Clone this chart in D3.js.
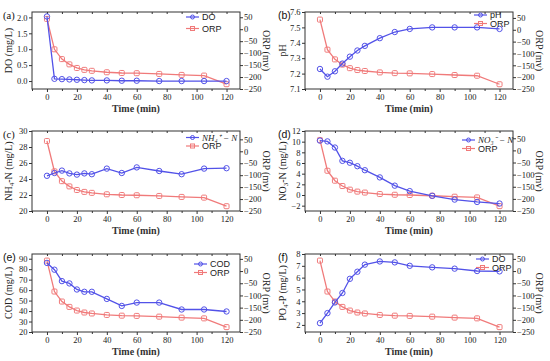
<!DOCTYPE html>
<html>
<head>
<meta charset="utf-8">
<script src="https://cdn.jsdelivr.net/npm/d3@7"></script>
<style>
  body { margin: 0; background: #fff; }
  svg { display: block; }
</style>
</head>
<body>
<script>
// time points (min)
var time = [0, 5, 10, 15, 20, 25, 30, 40, 50, 60, 75, 90, 105, 120];
// ORP (mv), same run in every panel
var orp = [43, -84, -125, -147, -162, -170, -174, -180, -183, -184, -187, -191, -194, -230];
var doVals = [2.03, 0.07, 0.06, 0.05, 0.04, 0.03, 0.02, 0.02, 0.01, 0.01, 0.0, 0.0, 0.0, 0.0];
var ph = [7.23, 7.18, 7.215, 7.265, 7.31, 7.35, 7.38, 7.43, 7.47, 7.49, 7.5, 7.5, 7.5, 7.49];
var nh4 = [24.4, 24.75, 25.05, 24.7, 24.55, 24.7, 24.6, 25.3, 24.75, 25.45, 25.0, 24.6, 25.3, 25.35];
var no3 = [10.2, 10.05, 8.9, 6.4, 6.05, 5.4, 4.65, 3.3, 1.75, 0.73, -0.15, -0.86, -1.3, -1.6];
var cod = [86, 79.5, 68.6, 66.4, 60.6, 58.4, 58.4, 51.6, 44.9, 48.1, 48.1, 41.5, 41.5, 39.6];
var po4 = [2.15, 3.0, 3.9, 4.7, 5.9, 6.5, 7.1, 7.37, 7.29, 7.0, 6.87, 6.76, 6.56, 6.53];

var xTicks = [0, 20, 40, 60, 80, 100, 120];
var orpTicks = [50, 0, -50, -100, -150, -200, -250];

var w = 550, h = 361;
var blue = "#5252e8", red = "#f07a7a";
var serif = "'Liberation Serif', 'Times New Roman', serif";
var sans = "'Liberation Sans', Arial, sans-serif";

var svg = d3.select("body").append("svg")
  .attr("width", w)
  .attr("height", h);

var panels = [
  { tag: "(a)", tagFont: serif, left: true, row: 0, series: doVals, name: "DO", ylab: ["DO (mg/L)"],
    dom: [-0.25, 2.17], ticks: [0, 0.5, 1, 1.5, 2], fmt: ".1f", rdom: [-250, 72], leg: [202, 20, 11.5] },
  { tag: "(b)", tagFont: sans, left: false, row: 0, series: ph, name: "pH", ylab: ["pH"],
    dom: [7.1, 7.6], ticks: [7.1, 7.2, 7.3, 7.4, 7.5, 7.6], fmt: ".1f", rdom: [-250, 75], leg: [490, 18, 8.5] },
  { tag: "(c)", tagFont: serif, left: true, row: 1, series: nh4, name: "NH\u2084\u207A \u2212 N", ylab: ["NH", "4", "-N (mg/L)"],
    dom: [20, 30], ticks: [20, 22, 24, 26, 28, 30], fmt: "d", rdom: [-250, 85], leg: [202, 140.5, 8.5] },
  { tag: "(d)", tagFont: sans, left: false, row: 1, series: no3, name: "NO\u2083\u207B \u2212 N", ylab: ["NO", "3", "-N (mg/L)"],
    dom: [-3, 12], ticks: [-2, 0, 2, 4, 6, 8, 10, 12], fmt: "d", rdom: [-250, 80], leg: [478, 143, 8.5] },
  { tag: "(e)", tagFont: sans, left: true, row: 2, series: cod, name: "COD", ylab: ["COD (mg/L)"],
    dom: [20, 94.5], ticks: [20, 30, 40, 50, 60, 70, 80, 90], fmt: "d", rdom: [-250, 70], leg: [210, 267, 8.5] },
  { tag: "(f)", tagFont: sans, left: false, row: 2, series: po4, name: "DO", ylab: ["PO", "4", "-P (mg/L)"],
    dom: [1.4, 8], ticks: [2, 3, 4, 5, 6, 7, 8], fmt: "d", rdom: [-250, 70], leg: [492, 262, 8.5] }
];

var rows = [[12, 89], [131, 211], [254, 332]];

panels.forEach(drawPanel);

function drawPanel(p) {
  var x0 = p.left ? 32 : 305;
  var x1 = p.left ? 240 : 513;
  var y0 = rows[p.row][0], y1 = rows[p.row][1];
  var g = svg.append("g");

  var xScale = d3.scaleLinear().domain([-10, 129]).range([x0, x1]);
  var yScale = d3.scaleLinear().domain(p.dom).range([y1, y0]);
  var rScale = d3.scaleLinear().domain(p.rdom).range([y1, y0]);

  /* ===== AXES ===== */
  g.append("g")
    .attr("transform", "translate(0," + y1 + ")")
    .call(d3.axisBottom(xScale).tickValues(xTicks).tickSize(3).tickPadding(2));
  g.append("g")
    .attr("transform", "translate(0," + y1 + ")")
    .call(d3.axisBottom(xScale).tickValues([-10, 10, 30, 50, 70, 90, 110]).tickSize(2).tickFormat(""));
  g.append("g")
    .attr("transform", "translate(0," + y0 + ")")
    .call(d3.axisBottom(xScale).tickValues([0, 10, 20, 30, 40, 50, 60, 70, 80, 90, 100, 110, 120]).tickSize(2).tickFormat(""));

  g.append("g")
    .attr("transform", "translate(" + x0 + ",0)")
    .call(d3.axisLeft(yScale).tickValues(p.ticks).tickSize(3).tickPadding(1.5).tickFormat(d3.format(p.fmt)));
  g.append("g")
    .attr("transform", "translate(" + x1 + ",0)")
    .call(d3.axisRight(rScale).tickValues(orpTicks).tickSize(3).tickPadding(1));

  g.selectAll(".domain").remove();
  g.selectAll(".tick line").attr("stroke", "#333");
  g.selectAll(".tick text")
    .attr("font-family", serif)
    .attr("font-size", "8.5px")
    .attr("fill", "#222");

  g.append("rect")
    .attr("x", x0).attr("y", y0)
    .attr("width", x1 - x0).attr("height", y1 - y0)
    .attr("fill", "none")
    .attr("stroke", "#333")
    .attr("stroke-width", 1);

  /* ===== LINES ===== */
  var line = d3.line();
  var orpPts = time.map(function (t, i) { return [xScale(t), rScale(orp[i])]; });
  var serPts = time.map(function (t, i) { return [xScale(t), yScale(p.series[i])]; });

  g.append("path").attr("d", line(orpPts))
    .attr("fill", "none").attr("stroke", red).attr("stroke-width", 1.3);
  g.selectAll("rect.orp").data(orpPts).enter().append("rect")
    .attr("class", "orp")
    .attr("x", function (d) { return d[0] - 2.5; })
    .attr("y", function (d) { return d[1] - 2.5; })
    .attr("width", 5).attr("height", 5).attr("rx", 1)
    .attr("fill", "none").attr("stroke", red).attr("stroke-width", 1);

  g.append("path").attr("d", line(serPts))
    .attr("fill", "none").attr("stroke", blue).attr("stroke-width", 1.3);
  g.selectAll("circle.ser").data(serPts).enter().append("circle")
    .attr("class", "ser")
    .attr("cx", function (d) { return d[0]; })
    .attr("cy", function (d) { return d[1]; })
    .attr("r", 2.7)
    .attr("fill", "none").attr("stroke", blue).attr("stroke-width", 1);

  /* ===== LABELS ===== */
  var cx = (x0 + x1) / 2;
  g.append("text")
    .attr("x", cx).attr("y", y1 + 23)
    .attr("text-anchor", "middle")
    .attr("font-family", serif)
    .attr("font-size", "10px")
    .attr("font-weight", "bold")
    .attr("fill", "#333")
    .text("Time (min)");

  var lx = p.left ? 8 : 282;
  var yl = g.append("text")
    .attr("transform", "translate(" + lx + "," + ((y0 + y1) / 2) + ") rotate(-90)")
    .attr("text-anchor", "middle")
    .attr("dy", "0.35em")
    .attr("font-family", serif)
    .attr("font-size", "10px")
    .attr("fill", "#222");
  yl.append("tspan").text(p.ylab[0]);
  if (p.ylab.length > 1) {
    yl.append("tspan").attr("dy", 2.5).attr("font-size", "7px").text(p.ylab[1]);
    yl.append("tspan").attr("dy", -2.5).text(p.ylab[2]);
  }

  g.append("text")
    .attr("transform", "translate(" + (x1 + 26) + "," + ((y0 + y1) / 2) + ") rotate(90)")
    .attr("text-anchor", "middle")
    .attr("dy", "0.35em")
    .attr("font-family", serif)
    .attr("font-size", "10px")
    .attr("fill", "#222")
    .text("ORP (mv)");

  g.append("text")
    .attr("x", p.left ? 3 : 278).attr("y", y0 + 7)
    .attr("font-family", p.tagFont)
    .attr("font-size", "10.5px")
    .attr("fill", "#111")
    .text(p.tag);

  /* ===== LEGEND ===== */
  var tx = p.leg[0], ty = p.leg[1], gap = p.leg[2];
  [[blue, "c"], [red, "s"]].forEach(function (e, k) {
    var yy = ty + k * gap - 3;
    g.append("line")
      .attr("x1", tx - 16).attr("x2", tx - 3)
      .attr("y1", yy).attr("y2", yy)
      .attr("stroke", e[0]).attr("stroke-width", 1.2);
    if (e[1] === "c") {
      g.append("circle").attr("cx", tx - 9.5).attr("cy", yy).attr("r", 2)
        .attr("fill", "none").attr("stroke", e[0]);
    } else {
      g.append("rect").attr("x", tx - 11.5).attr("y", yy - 2).attr("width", 4).attr("height", 4)
        .attr("fill", "none").attr("stroke", e[0]);
    }
  });

  var italic = p.name.indexOf("N") === 0 && p.name.length > 3;
  g.append("text")
    .attr("x", tx).attr("y", ty)
    .attr("font-size", "9px")
    .attr("font-family", italic ? serif : sans)
    .attr("font-style", italic ? "italic" : "normal")
    .attr("fill", "#222")
    .text(p.name);
  g.append("text")
    .attr("x", tx).attr("y", ty + gap)
    .attr("font-family", sans)
    .attr("font-size", "9px")
    .attr("fill", "#222")
    .text("ORP");
}
</script>
</body>
</html>
